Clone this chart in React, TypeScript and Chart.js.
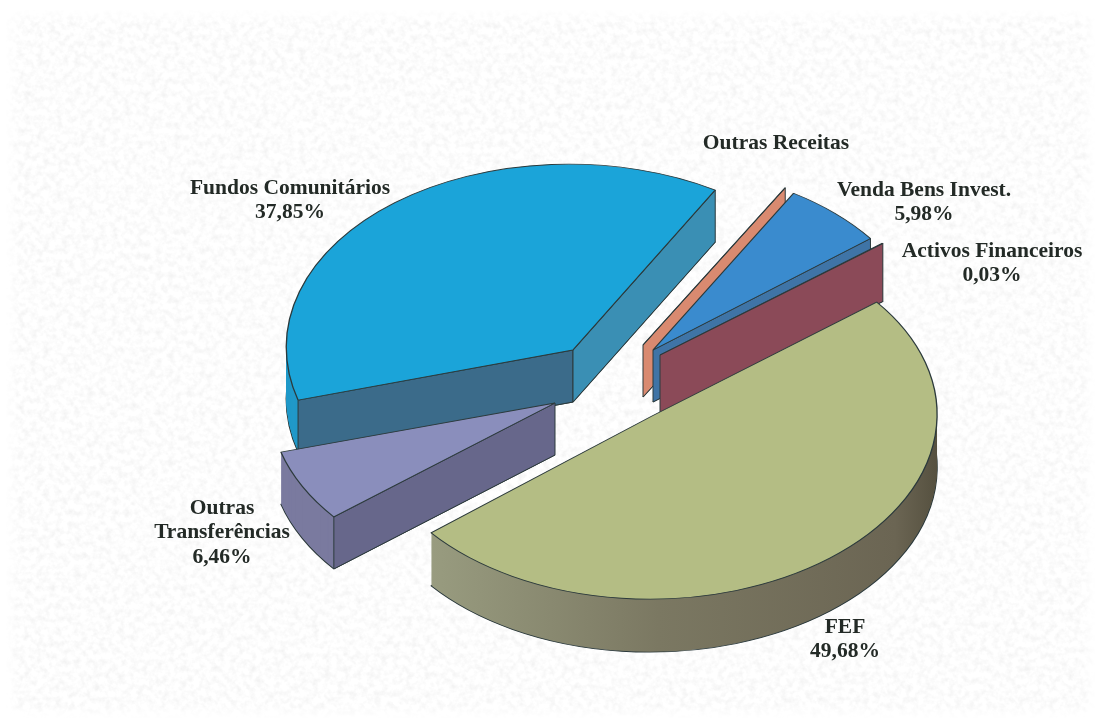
import React, { useEffect, useRef } from "react";
import { Chart, registerables } from "chart.js";

Chart.register(...registerables);

const sliceNames = ["FEF", "Outras Transferências", "Fundos Comunitários", "Outras Receitas", "Venda Bens Invest.", "Activos Financeiros"];
const sliceValues = [49.68, 6.46, 37.85, 0.01, 5.98, 0.03];

// styling of the exploded 3D look
const topColors = ["#b4bd84", "#8a8ebc", "#1ba4d9", "#d98a70", "#3a8bce", "#8b4a58"];
const rimColors = ["#8a8e70", "#7a7a9f", "#2199c9", "#c9795f", "#3a78ae", "#7e4250"];
const startFaceColors = ["#8a8e70", "#67678b", "#3b6b8a", "#d98a70", "#3f74a6", "#8b4a58"];
const endFaceColors = ["#8a8e70", "#67678b", "#3a8fb4", "#d98a70", "#3f74a6", "#8b4a58"];
// offset of each slice's tip from the chart centre
const explodeX = [104.5, 7.5, 25.5, 95.5, 105.5, 112.5];
const explodeY = [55, 42, -11, -16, -11, -6];
// each slice's projection of the circle onto the page (perspective look)
const projXX = [285, 284.8, 286.6, 275, 275, 285];
const projXY = [7, 6.5, 10, 3, 5, 10];
const projYX = [-6, -3.9, -3.7, -3, -3, -3];
const projYY = [183, 181, 185.8, 183, 182.5, 183];
const depths = [53, 52, 52, 52, 52, 58];
const drawOrder = [2, 3, 4, 5, 1, 0];
const RADIUS = 278;
const START_ANGLE = 53.4;
const EDGE = "#2c3a3c";

const labelBlocks = [
  { lines: ["FEF", "49,68%"], x: 845, y: 627 },
  { lines: ["Outras", "Transferências", "6,46%"], x: 222, y: 508 },
  { lines: ["Fundos Comunitários", "37,85%"], x: 290, y: 188 },
  { lines: ["Outras Receitas"], x: 776, y: 143 },
  { lines: ["Venda Bens Invest.", "5,98%"], x: 924, y: 190 },
  { lines: ["Activos Financeiros", "0,03%"], x: 992, y: 251 },
];

const pie3d = {
  id: "pie3d",
  beforeDatasetsDraw(chart: any) {
    const ctx = chart.ctx;
    const arcs = chart.getDatasetMeta(0).data;
    const drawArc = (arc: any, i: number, dy: number, fill: any, border: number) => {
      const saved = arc.options;
      arc.options = { ...saved, backgroundColor: fill, borderColor: EDGE, borderWidth: border };
      ctx.save();
      ctx.translate(arc.x + explodeX[i], arc.y + explodeY[i] + dy);
      ctx.transform(projXX[i] / RADIUS, projYX[i] / RADIUS, projXY[i] / RADIUS, projYY[i] / RADIUS, 0, 0);
      ctx.translate(-arc.x, -arc.y);
      arc.draw(ctx);
      ctx.restore();
      arc.options = saved;
    };
    for (const i of drawOrder) {
      const arc = arcs[i];
      const d = depths[i];
      let rim: any = rimColors[i];
      if (i === 0) {
        rim = ctx.createLinearGradient(arc.x - RADIUS, 0, arc.x + RADIUS, 0);
        rim.addColorStop(0, "#a0a587");
        rim.addColorStop(0.5, "#7b7862");
        rim.addColorStop(0.92, "#6b6553");
        rim.addColorStop(1, "#55503f");
      }
      drawArc(arc, i, d, rim, 1.3);
      for (let y = d - 1; y > 0; y--) drawArc(arc, i, y, rim, 0);
      const ax = arc.x + explodeX[i];
      const ay = arc.y + explodeY[i];
      const face = (a: number, color: string) => {
        const cx = Math.cos(a);
        const sy = Math.sin(a);
        const px = ax + projXX[i] * cx + projXY[i] * sy;
        const py = ay + projYX[i] * cx + projYY[i] * sy;
        ctx.beginPath();
        ctx.moveTo(ax, ay);
        ctx.lineTo(px, py);
        ctx.lineTo(px, py + d);
        ctx.lineTo(ax, ay + d);
        ctx.closePath();
        ctx.fillStyle = color;
        ctx.fill();
        ctx.strokeStyle = EDGE;
        ctx.lineWidth = 1;
        ctx.stroke();
      };
      if (Math.cos(arc.startAngle) < 0) face(arc.startAngle, startFaceColors[i]);
      if (Math.cos(arc.endAngle) > 0) face(arc.endAngle, endFaceColors[i]);
      drawArc(arc, i, 0, topColors[i], 1.3);
    }
    return false;
  },
  afterDraw(chart: any) {
    const ctx = chart.ctx;
    ctx.save();
    ctx.font = "bold 21.5px 'Liberation Serif'";
    ctx.fillStyle = "#232a26";
    ctx.textAlign = "center";
    ctx.textBaseline = "middle";
    for (const b of labelBlocks) {
      b.lines.forEach((t, k) => ctx.fillText(t, b.x, b.y + k * 24.5));
    }
    ctx.restore();
  },
};

const noise = encodeURIComponent(
  "<svg xmlns='http://www.w3.org/2000/svg' width='1095' height='722'><filter id='n'><feTurbulence type='fractalNoise' baseFrequency='0.16' numOctaves='3' seed='7'/><feColorMatrix values='0 0 0 0 0.72 0 0 0 0 0.72 0 0 0 0 0.72 0.75 0 0 0 -0.3'/></filter><rect width='1095' height='722' fill='#ffffff'/><rect width='1095' height='722' filter='url(#n)'/></svg>"
);

export default function App() {
  const ref = useRef<HTMLCanvasElement>(null);
  useEffect(() => {
    const chart = new Chart(ref.current as HTMLCanvasElement, {
      type: "pie",
      data: {
        labels: sliceNames,
        datasets: [{ data: sliceValues, backgroundColor: topColors, borderColor: EDGE, borderWidth: 1 }],
      },
      options: {
        responsive: false,
        animation: false,
        events: [],
        rotation: START_ANGLE,
        radius: RADIUS,
        layout: { padding: 0 },
        plugins: { legend: { display: false }, tooltip: { enabled: false }, title: { display: false } },
      } as any,
      plugins: [pie3d as any],
    });
    return () => chart.destroy();
  }, []);
  return (
    <div style={{ position: "fixed", left: 0, top: 0, width: 1095, height: 722, background: "#fff", overflow: "hidden" }}>
      <div
        style={{
          position: "absolute",
          left: 6,
          top: 10,
          right: 0,
          bottom: 4,
          backgroundImage: `url("data:image/svg+xml,${noise}")`,
          boxShadow: "inset 0 0 12px 6px #fff",
        }}
      />
      <canvas ref={ref} width={1095} height={722} style={{ position: "absolute", left: 0, top: 0 }} />
    </div>
  );
}
